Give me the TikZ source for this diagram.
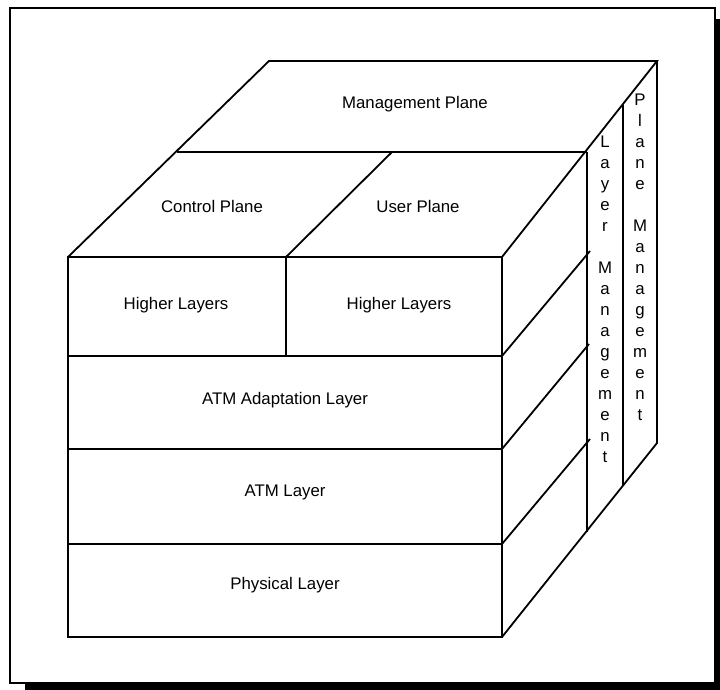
\documentclass[tikz,border=0pt]{standalone}
\usepackage{fontspec}
\setmainfont{Liberation Sans}
\begin{document}
\begin{tikzpicture}[x=1pt,y=-1pt,
  edge/.style={line width=1.8pt,line join=miter},
  label/.style={font=\fontsize{16.8}{20}\selectfont,inner sep=0pt},
  vlabel/.style={font=\fontsize{16.8}{21}\selectfont,inner sep=0pt,align=center,anchor=north}]
\useasboundingbox (0,0) rectangle (720,690);
% drop shadow and frame
\fill[black] (25,19) rectangle (720,690);
\draw[fill=white,line width=1.4pt] (10,8) rectangle (715,683);

% cube corners
\coordinate (FTL) at (68,257);
\coordinate (FTR) at (502,257);
\coordinate (FBL) at (68,637);
\coordinate (FBR) at (502,637);
\coordinate (BTL) at (269,61);
\coordinate (BTR) at (657,61);
\coordinate (BBR) at (657,443);
% top face subdivision
\coordinate (MTL) at (177,152);
\coordinate (MTR) at (587,152);
\coordinate (DVF) at (286,257);
\coordinate (DVB) at (392,152);
% front face rows
\coordinate (R1L) at (68,356);  \coordinate (R1R) at (502,356);
\coordinate (R2L) at (68,449);  \coordinate (R2R) at (502,449);
\coordinate (R3L) at (68,544);  \coordinate (R3R) at (502,544);
\coordinate (DVM) at (286,356);
% side face columns
\coordinate (C1T) at (587,152); \coordinate (C1B) at (587,532);
\coordinate (C2T) at (623,105); \coordinate (C2B) at (623,485);
% side face row ends
\coordinate (S1) at (590,251);
\coordinate (S2) at (589,344);
\coordinate (S3) at (590,439);

% front face
\draw[edge] (FTL) rectangle (FBR);
\draw[edge] (R1L) -- (R1R);
\draw[edge] (R2L) -- (R2R);
\draw[edge] (R3L) -- (R3R);
\draw[edge] (DVF) -- (DVM);
% top face
\draw[edge] (FTL) -- (BTL) -- (BTR) -- (FTR);
\draw[edge] (MTL) -- (MTR);
\draw[edge] (DVF) -- (DVB);
% side face
\draw[edge] (BTR) -- (BBR) -- (FBR);
\draw[edge] (C1T) -- (C1B);
\draw[edge] (C2T) -- (C2B);
\draw[edge] (R1R) -- (S1);
\draw[edge] (R2R) -- (S2);
\draw[edge] (R3R) -- (S3);

% labels
\node[label] (mgmt) at (415,104) {Management Plane};
\node[label] (ctrl) at (212,206) {Control Plane};
\node[label] (user) at (418,206) {User Plane};
\node[label] (hl1) at (176,305) {Higher Layers};
\node[label] (hl2) at (399,305) {Higher Layers};
\node[label] (aal) at (285,400) {ATM Adaptation Layer};
\node[label] (atm) at (285,492) {ATM Layer};
\node[label] (phy) at (285,585) {Physical Layer};
\node[vlabel] (lm) at (605,136) {L\\a\\y\\e\\r\\[21pt]M\\a\\n\\a\\g\\e\\m\\e\\n\\t};
\node[vlabel] (pm) at (640,94) {P\\l\\a\\n\\e\\[21pt]M\\a\\n\\a\\g\\e\\m\\e\\n\\t};
\end{tikzpicture}
\end{document}
